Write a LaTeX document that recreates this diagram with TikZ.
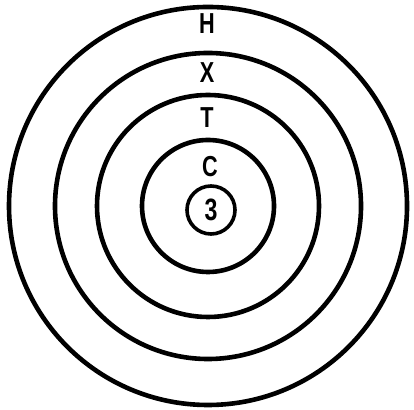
\documentclass[tikz,border=0pt]{standalone}
\usepackage{fontspec}
\newfontfamily\ringfont[FakeStretch=0.75]{Liberation Sans}
\usetikzlibrary{positioning}

\begin{document}
\begin{tikzpicture}[x=0.5bp, y=0.5bp, line width=2.3bp,
	font=\ringfont\bfseries\fontsize{14.5}{16}\selectfont]
	\useasboundingbox (0,0) rectangle (414,410);
	\coordinate (o) at (208,204);
	% rings
	\draw (o) circle[radius=199];
	\draw (o) circle[radius=153];
	\draw (o) circle[radius=111];
	\draw (o) circle[radius=66];
	% labels
	\node (h) at (207,386) {H};
	\node (x) at (207,337) {X};
	\node (t) at (207,292) {T};
	\node (c) at (210,243) {C};
	\node[draw, circle, line width=1.8bp, minimum size=24bp, inner sep=0pt,
		font=\ringfont\bfseries\fontsize{15.5}{17}\selectfont] (three) at (211,200) {3};
\end{tikzpicture}
\end{document}
